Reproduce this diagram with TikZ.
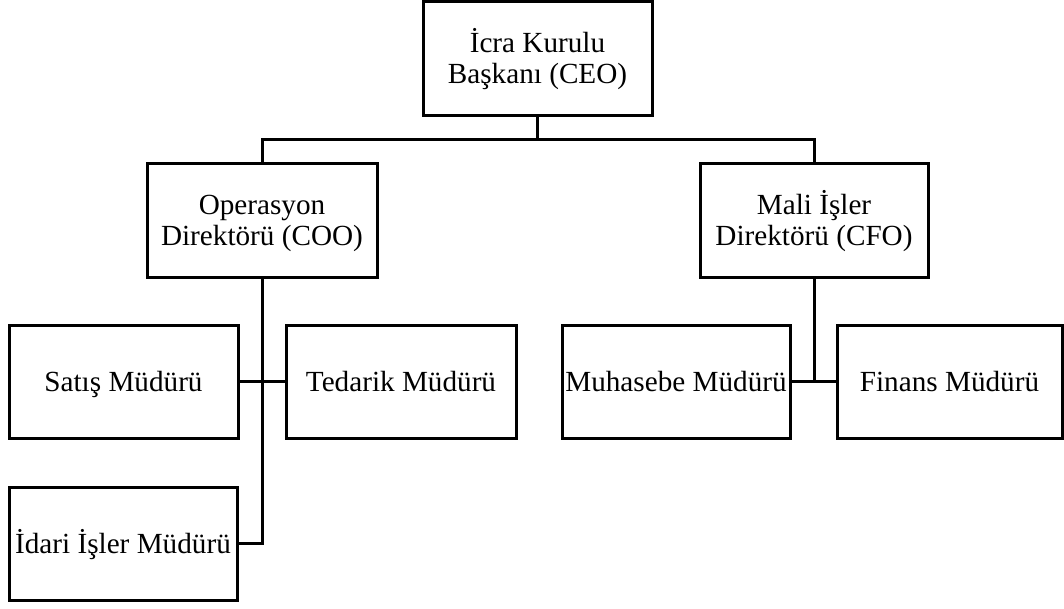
\documentclass[tikz,border=0pt]{standalone}
\usepackage{fontspec}
\setmainfont{Liberation Serif}
\begin{document}
\begin{tikzpicture}[x=1pt,y=-1pt,
  box/.style={draw=black, line width=3pt, inner sep=0pt, align=center,
    font=\fontsize{29.2}{31}\selectfont},
  oneline/.style={box, text height=19.3pt, text depth=0pt},
  twoline/.style={box, text height=50.3pt, text depth=0pt},
  link/.style={draw=black, line width=3pt}]
  \useasboundingbox (0,0) rectangle (1064,608);

  % Executive level
  \node[twoline, minimum width=229pt, minimum height=114pt] (ceo) at (537.5,58) {İcra Kurulu\\Başkanı (CEO)};

  % Directors
  \node[twoline, minimum width=230pt, minimum height=114pt] (coo) at (262,220) {Operasyon\\Direktörü (COO)};
  \node[twoline, minimum width=228pt, minimum height=114pt] (cfo) at (814,220) {Mali İşler\\Direktörü (CFO)};

  % Managers
  \node[oneline, minimum width=229pt, minimum height=113pt] (satis) at (123.5,381.5) {Satış Müdürü};
  \node[oneline, minimum width=230pt, minimum height=113pt] (tedarik) at (401,381.5) {Tedarik Müdürü};
  \node[oneline, minimum width=228pt, minimum height=113pt] (muhasebe) at (676,381.5) {Muhasebe Müdürü};
  \node[oneline, minimum width=225pt, minimum height=113pt] (finans) at (949.5,381.5) {Finans Müdürü};
  \node[oneline, minimum width=228pt, minimum height=113pt] (idari) at (123,543.5) {İdari İşler Müdürü};

  % Bus under the CEO
  \coordinate (bus) at (537.5,139);
  \draw[link] (ceo.south) -- (bus);
  \draw[link] (coo.north) -- (coo.north |- bus) -- (cfo.north |- bus) -- (cfo.north);

  % COO branch
  \draw[link] (coo.south) |- (idari.east);
  \draw[link] (satis.east) -- (tedarik.west);

  % CFO branch
  \draw[link] (cfo.south) -- (cfo.south |- muhasebe.east);
  \draw[link] (muhasebe.east) -- (finans.west);
\end{tikzpicture}
\end{document}
